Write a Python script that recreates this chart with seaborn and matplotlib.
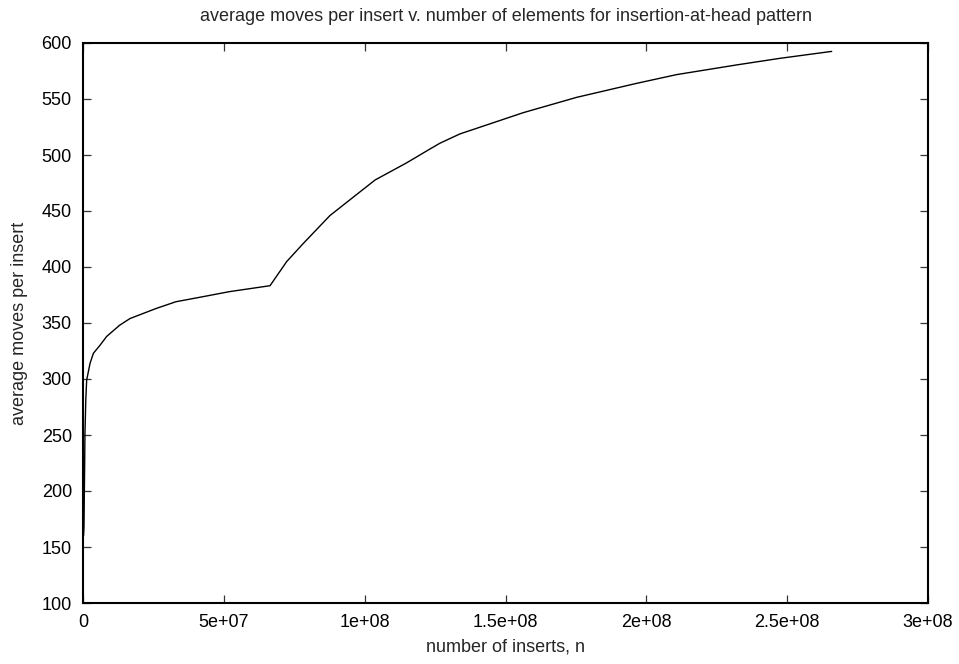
import matplotlib
matplotlib.use("Agg")
import matplotlib.pyplot as plt
import seaborn as sns
import pandas as pd

# average moves per insert measured at increasing numbers of inserts
inserts = [0.2e6, 0.35e6, 0.55e6, 0.7e6, 1.0e6, 1.3e6, 2.5e6, 3.7e6, 6e6, 8.4e6,
           13e6, 16.7e6, 26e6, 33e6, 42.6e6, 52e6, 66.4e6, 72.3e6, 78.2e6,
           87.7e6, 98.3e6, 103.7e6, 114.9e6, 122.6e6, 126.7e6, 133.8e6,
           156.3e6, 175.3e6, 196.6e6, 210.8e6, 232e6, 247.4e6, 265.8e6]
avg_moves = [160, 168, 215, 252, 282, 299, 314, 323, 330, 338,
             348, 354, 363, 369, 373.5, 378, 383.3, 404.8, 421,
             446, 467, 477.7, 493, 504.5, 510.5, 518.8,
             537.8, 551.5, 564, 571.8, 580.4, 586.3, 592.5]

x_ticks = [0, 5e7, 1e8, 1.5e8, 2e8, 2.5e8, 3e8]
x_tick_labels = ["0", "5e+07", "1e+08", "1.5e+08", "2e+08", "2.5e+08", "3e+08"]
y_ticks = [100, 150, 200, 250, 300, 350, 400, 450, 500, 550, 600]

df = pd.DataFrame({"n": inserts, "moves": avg_moves})

sns.set_theme(style="ticks")
plt.rcParams["font.family"] = ["Liberation Sans", "DejaVu Sans"]

fig = plt.figure(figsize=(9.59, 6.64), dpi=100)
ax = fig.add_axes([83 / 959, 1 - 603 / 664, (928 - 83) / 959, (603 - 43) / 664])

sns.lineplot(data=df, x="n", y="moves", ax=ax, color="black", linewidth=1.0,
             sort=False, estimator=None)

ax.set_xlim(0, 3e8)
ax.set_ylim(100, 600)
ax.set_xticks(x_ticks)
ax.set_xticklabels(x_tick_labels)
ax.set_yticks(y_ticks)
ax.set_yticklabels([str(v) for v in y_ticks])

for side in ["top", "right", "bottom", "left"]:
    ax.spines[side].set_visible(True)
    ax.spines[side].set_color("black")
    ax.spines[side].set_linewidth(1.5)

ax.tick_params(direction="in", length=6, width=0.9, color="#333333",
               top=True, right=True, labelsize=13, labelcolor="black", pad=8)

ax.set_xlabel("number of inserts, n", fontsize=13, labelpad=5)
ax.set_ylabel("average moves per insert", fontsize=13, labelpad=10)
ax.set_title("average moves per insert v. number of elements for insertion-at-head pattern",
             fontsize=13, pad=16)

fig.savefig("out.png", dpi=100, facecolor="white")
